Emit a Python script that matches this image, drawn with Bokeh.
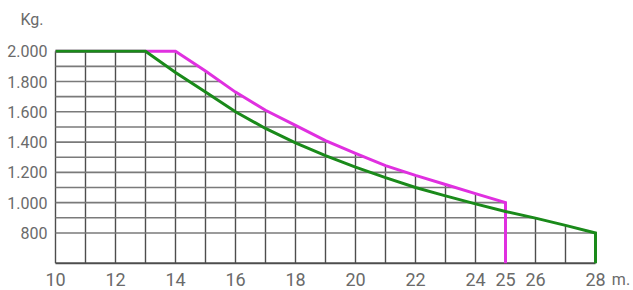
import numpy as np
from bokeh.plotting import figure
from bokeh.models import Range1d
from bokeh.core.properties import value
from bokeh.embed import file_html
from bokeh.resources import INLINE

# ---- data ----
dist_pink = [10, 11, 12, 13, 14, 15, 16, 17, 18, 19, 20, 21, 22, 23, 24, 25]
load_pink = [2000, 2000, 2000, 2000, 2000, 1870, 1730, 1610, 1510, 1410, 1325, 1245, 1180, 1120, 1060, 1000]
dist_green = [10, 11, 12, 13, 14, 15, 16, 17, 18, 19, 20, 21, 22, 23, 24, 25, 26, 27, 28]
load_green = [2000, 2000, 2000, 2000, 1860, 1730, 1600, 1490, 1395, 1310, 1235, 1165, 1100, 1045, 992, 942, 898, 850, 800]
x_ticks = [10, 12, 14, 16, 18, 20, 22, 24, 25, 26, 28]
x_tick_labels = ["10", "12", "14", "16", "18", "20", "22", "24", "25", "26", "28"]
y_ticks = [800, 1000, 1200, 1400, 1600, 1800, 2000]
y_tick_labels = ["800", "1.000", "1.200", "1.400", "1.600", "1.800", "2.000"]
grid_x = list(range(10, 29))
grid_y = list(range(800, 2000, 100))
y_min = 600
x_unit = "m."
x_unit_pos = 28.85
y_unit = "Kg."
y_unit_pos = 2210

FONT = "Roboto"
TXT = "#6a6a6a"


def top_at(x):
    if x <= dist_pink[-1]:
        return float(np.interp(x, dist_pink, load_pink))
    return float(np.interp(x, dist_green, load_green))


def right_at(y):
    if y >= load_pink[-1]:
        return float(np.interp(y, load_pink[::-1], dist_pink[::-1]))
    return float(np.interp(y, load_green[::-1], dist_green[::-1]))


p = figure(width=633, height=290, output_backend="svg", toolbar_location=None,
           x_range=Range1d(8.1667, 29.2667), y_range=Range1d(420, 2335),
           min_border_left=0, min_border_right=0, min_border_top=0, min_border_bottom=0)
p.outline_line_color = None
p.background_fill_color = "white"
p.border_fill_color = "white"
p.xgrid.visible = False
p.ygrid.visible = False
p.xaxis.visible = False
p.yaxis.visible = False

# grid clipped to the envelope
p.segment(x0=grid_x, y0=[y_min] * len(grid_x), x1=grid_x, y1=[top_at(x) for x in grid_x],
          line_color="#4d4d4d", line_width=1.4)
p.segment(x0=[dist_green[0]] * len(grid_y), y0=grid_y, x1=[right_at(y) for y in grid_y], y1=grid_y,
          line_color="#7a7a7a", line_width=1.6)
# base line
p.segment(x0=[dist_green[0]], y0=[y_min], x1=[dist_green[-1]], y1=[y_min],
          line_color="#4d4d4d", line_width=2)

# curves
p.line(dist_pink + [dist_pink[-1]], load_pink + [y_min], line_color="#e030e0", line_width=3, line_join="miter")
p.line(dist_green + [dist_green[-1]], load_green + [y_min], line_color="#1a8a1a", line_width=3, line_join="miter")

# x tick labels and unit
p.text(x=x_ticks, y=[y_min] * len(x_ticks), text=x_tick_labels,
       text_align="center", text_baseline="middle", y_offset=16,
       text_font=value(FONT), text_font_size="18px", text_color=TXT)
p.text(x=[x_unit_pos], y=[y_min], text=[x_unit],
       text_align="center", text_baseline="middle", y_offset=16,
       text_font=value(FONT), text_font_size="16px", text_color=TXT)

# y tick labels and unit
p.text(x=[dist_green[0]] * len(y_ticks), y=y_ticks, text=y_tick_labels,
       text_align="right", text_baseline="middle", x_offset=-8,
       text_font=value(FONT), text_font_size="16px", text_color=TXT)
p.text(x=[dist_green[0]], y=[y_unit_pos], text=[y_unit],
       text_align="right", text_baseline="middle", x_offset=-12,
       text_font=value(FONT), text_font_size="16px", text_color=TXT)

open("out.html", "w").write(file_html(p, INLINE))
